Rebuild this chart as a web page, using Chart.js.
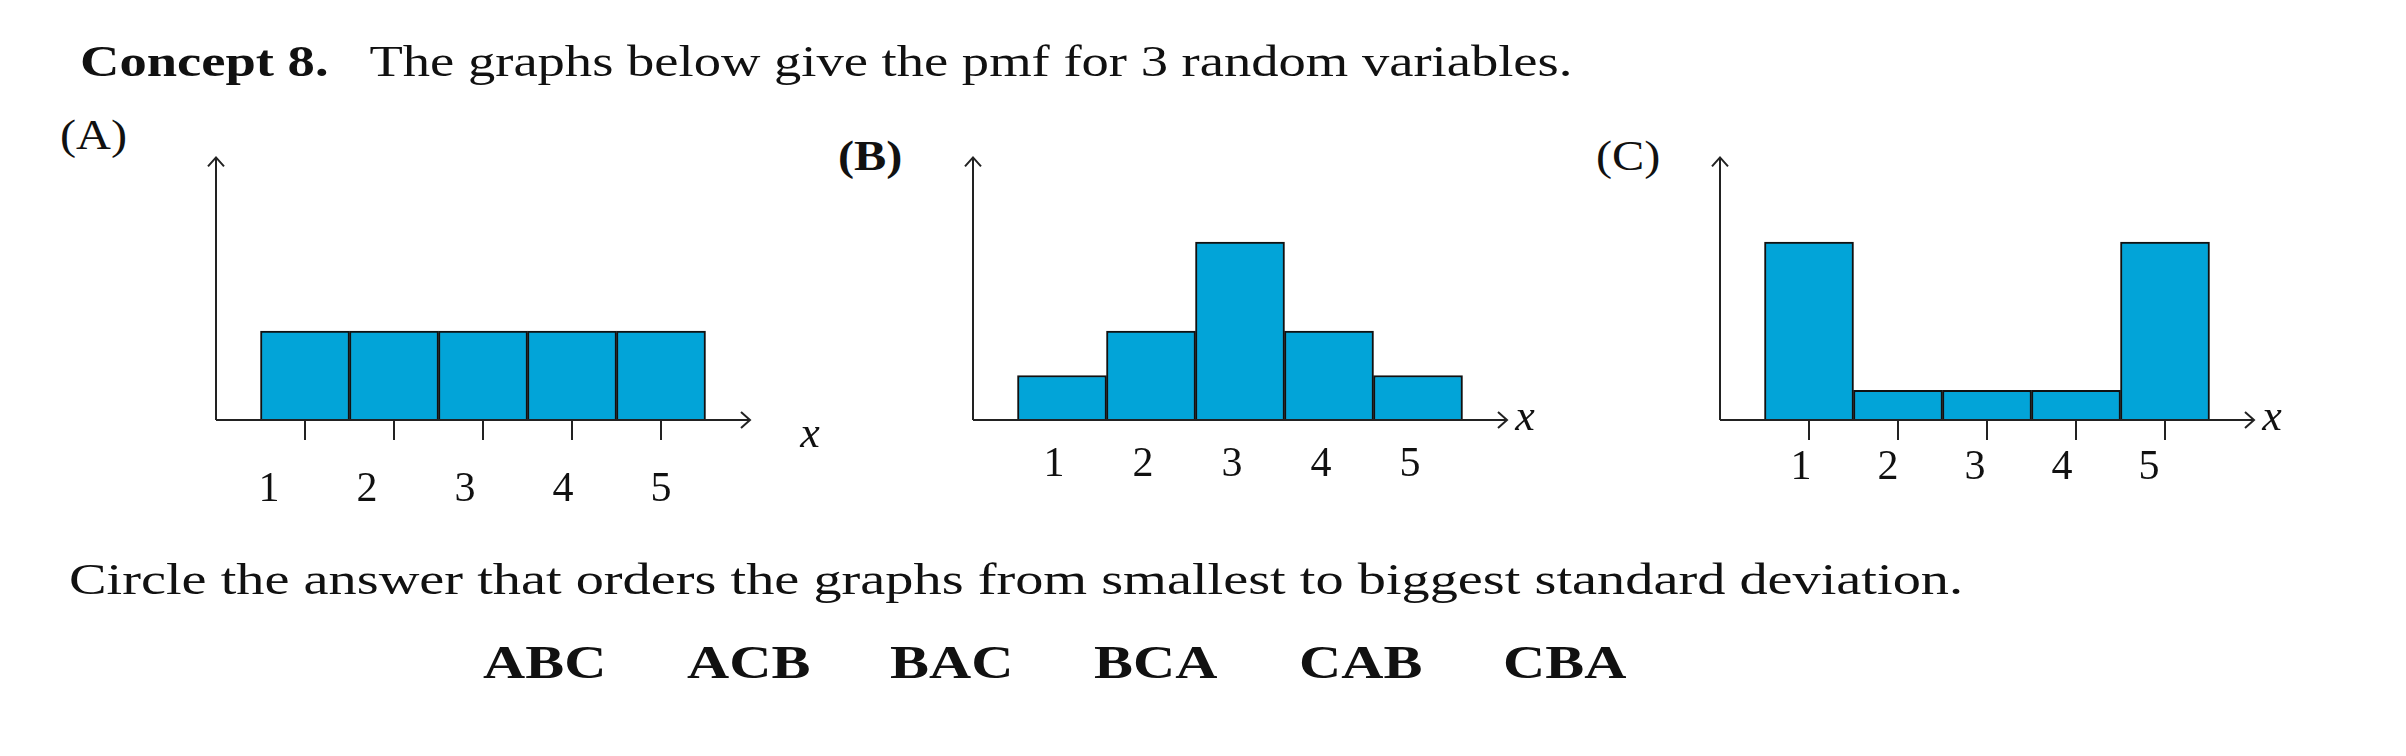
<!DOCTYPE html>
<html><head><meta charset="utf-8">
<script src="https://cdn.jsdelivr.net/npm/chart.js@4"></script>
<style>
body{margin:0;width:2406px;height:756px;background:#fff;position:relative;overflow:hidden;font-family:"Liberation Serif",serif;color:#111}
canvas{position:absolute;left:0;top:0}
.t{position:absolute;white-space:nowrap;line-height:1;transform-origin:0 50%}
.ans span{position:absolute;transform:scaleX(1.27);transform-origin:0 50%}
</style></head><body>
<div class="t" style="left:80px;top:40px;font-size:44px;transform:scaleX(1.24)"><b>Concept 8.</b>&nbsp;&nbsp;&nbsp;The graphs below give the pmf for 3 random variables.</div>
<div class="t" style="left:60px;top:114px;font-size:42px;transform:scaleX(1.15)">(A)</div>
<div class="t" style="left:838px;top:135px;font-size:42px;transform:scaleX(1.15)"><b>(B)</b></div>
<div class="t" style="left:1596px;top:135px;font-size:42px;transform:scaleX(1.15)">(C)</div>
<div class="t" style="left:69px;top:558px;font-size:44px;transform:scaleX(1.28)">Circle the answer that orders the graphs from smallest to biggest standard deviation.</div>
<div class="t ans" style="left:483px;top:640px;font-size:46px;font-weight:bold">
<span style="left:0">ABC</span><span style="left:204px">ACB</span><span style="left:407px">BAC</span><span style="left:611px">BCA</span><span style="left:816px">CAB</span><span style="left:1020px">CBA</span></div>
<canvas id="cA"></canvas><canvas id="cB"></canvas><canvas id="cC"></canvas>
<script>
const categories = [1, 2, 3, 4, 5];
const tickLabels = ["1", "2", "3", "4", "5"];
const valuesA = [0.2, 0.2, 0.2, 0.2, 0.2];
const valuesB = [0.1, 0.2, 0.4, 0.2, 0.1];
const valuesC = [0.4, 0.0667, 0.0667, 0.0667, 0.4];

const axesPlugin = {
  id: 'axesPlugin',
  afterDatasetsDraw(chart, args, o) {
    const ctx = chart.ctx, xs = chart.scales.x, ys = chart.scales.y;
    const x0 = xs.getPixelForValue(0), y0 = ys.getPixelForValue(0);
    const xEnd = xs.getPixelForValue(6), yTop = ys.getPixelForValue(0.59);
    ctx.save();
    ctx.strokeStyle = '#222'; ctx.lineWidth = 2;
    ctx.beginPath();
    ctx.moveTo(x0, y0); ctx.lineTo(xEnd, y0);
    ctx.moveTo(xEnd - 9, y0 - 8); ctx.lineTo(xEnd, y0); ctx.lineTo(xEnd - 9, y0 + 8);
    ctx.moveTo(x0, y0); ctx.lineTo(x0, yTop);
    ctx.moveTo(x0 - 8, yTop + 9); ctx.lineTo(x0, yTop); ctx.lineTo(x0 + 8, yTop + 9);
    if (o.ticks) categories.forEach(v => { const p = xs.getPixelForValue(v); ctx.moveTo(p, y0); ctx.lineTo(p, y0 + 20); });
    ctx.stroke();
    ctx.fillStyle = '#111'; ctx.font = '42px "Liberation Serif", serif';
    ctx.textAlign = 'center'; ctx.textBaseline = 'middle';
    categories.forEach((v, i) => {
      const p = xs.getPixelForValue(v) + o.spread * (v - 3) + o.dx;
      ctx.fillText(tickLabels[i], p, o.labelY);
    });
    ctx.font = 'italic 44px "Liberation Serif", serif';
    ctx.fillText('x', o.xl[0], o.xl[1]);
    ctx.restore();
  }
};

function make(id, values, left, opts) {
  const c = document.getElementById(id);
  c.width = 2406; c.height = 756;
  new Chart(c, {
    type: 'bar',
    data: { datasets: [{ data: categories.map((x, i) => ({ x, y: values[i] })),
      backgroundColor: '#02a4d8', borderColor: '#111', borderWidth: 2,
      barPercentage: 1, categoryPercentage: 1 }] },
    options: {
      responsive: false, animation: false, devicePixelRatio: 1,
      layout: { padding: { left: left, right: 2406 - (left + 534), top: 153, bottom: 336 } },
      plugins: { legend: { display: false }, tooltip: { enabled: false }, axesPlugin: opts },
      scales: {
        x: { type: 'linear', min: 0, max: 6, display: false, offset: false },
        y: { min: 0, max: 0.6, display: false }
      }
    },
    plugins: [axesPlugin]
  });
}
make('cA', valuesA, 216, { ticks: true, labelY: 490, spread: 9, dx: -18, xl: [810, 435] });
make('cB', valuesB, 973, { ticks: false, labelY: 465, spread: 0, dx: -8, xl: [1525, 418] });
make('cC', valuesC, 1720, { ticks: true, labelY: 468, spread: -2, dx: -12, xl: [2272, 418] });
</script>
</body></html>
